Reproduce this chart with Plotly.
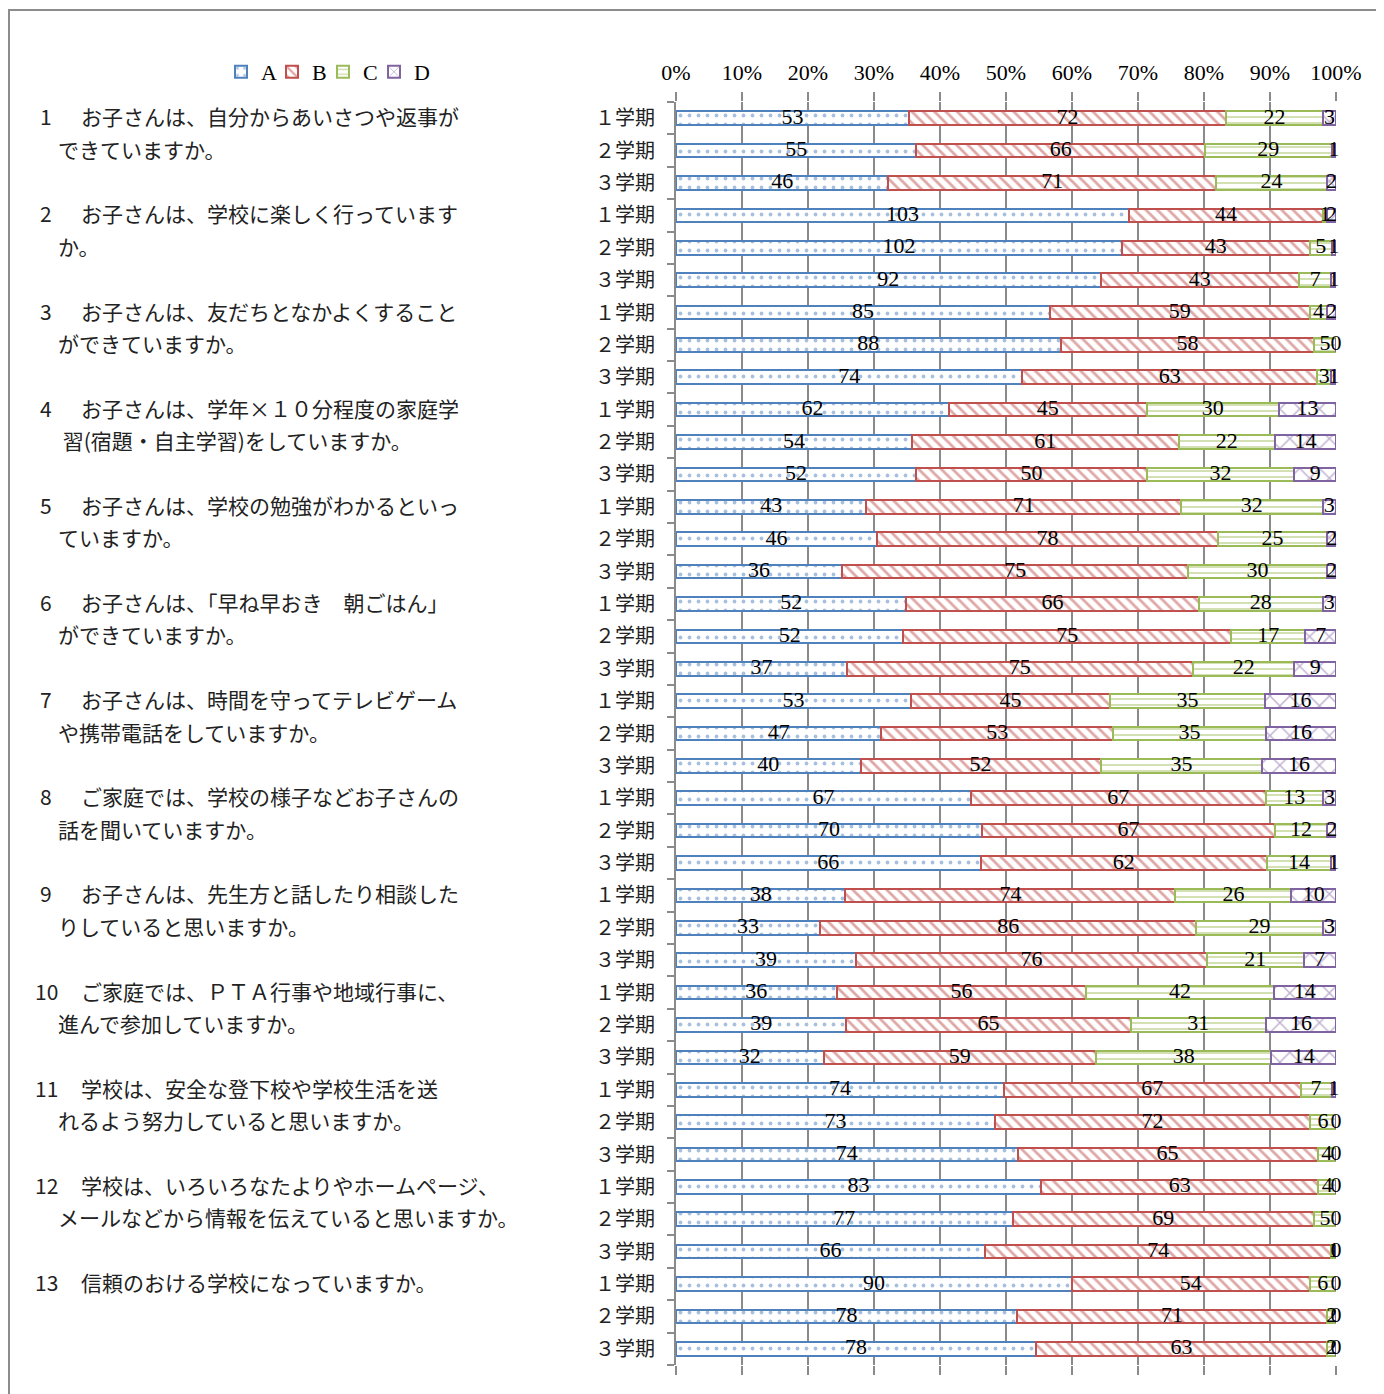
import plotly.graph_objects as go

terms = ["１学期", "２学期", "３学期"] * 13

A = [53, 55, 46, 103, 102, 92, 85, 88, 74, 62, 54, 52, 43, 46, 36, 52, 52, 37, 53, 47, 40,
     67, 70, 66, 38, 33, 39, 36, 39, 32, 74, 73, 74, 83, 77, 66, 90, 78, 78]
B = [72, 66, 71, 44, 43, 43, 59, 58, 63, 45, 61, 50, 71, 78, 75, 66, 75, 75, 45, 53, 52,
     67, 67, 62, 74, 86, 76, 56, 65, 59, 67, 72, 65, 63, 69, 74, 54, 71, 63]
C = [22, 29, 24, 1, 5, 7, 4, 5, 3, 30, 22, 32, 32, 25, 30, 28, 17, 22, 35, 35, 35,
     13, 12, 14, 26, 29, 21, 42, 31, 38, 7, 6, 4, 4, 5, 1, 6, 2, 2]
D = [3, 1, 2, 2, 1, 1, 2, 0, 1, 13, 14, 9, 3, 2, 2, 3, 7, 9, 16, 16, 16,
     3, 2, 1, 10, 3, 7, 14, 16, 14, 1, 0, 0, 0, 0, 0, 0, 0, 0]

questions = [
    ("1", "お子さんは、自分からあいさつや返事が", "できていますか。"),
    ("2", "お子さんは、学校に楽しく行っています", "か。"),
    ("3", "お子さんは、友だちとなかよくすること", "ができていますか。"),
    ("4", "お子さんは、学年×１０分程度の家庭学", " 習(宿題・自主学習)をしていますか。"),
    ("5", "お子さんは、学校の勉強がわかるといっ", "ていますか。"),
    ("6", "お子さんは、「早ね早おき　朝ごはん」", "ができていますか。"),
    ("7", "お子さんは、時間を守ってテレビゲーム", "や携帯電話をしていますか。"),
    ("8", "ご家庭では、学校の様子などお子さんの", "話を聞いていますか。"),
    ("9", "お子さんは、先生方と話したり相談した", "りしていると思いますか。"),
    ("10", "ご家庭では、ＰＴＡ行事や地域行事に、", "進んで参加していますか。"),
    ("11", "学校は、安全な登下校や学校生活を送", "れるよう努力していると思いますか。"),
    ("12", "学校は、いろいろなたよりやホームページ、", "メールなどから情報を伝えていると思いますか。"),
    ("13", "信頼のおける学校になっていますか。", ""),
]

series = [
    ("A", A, "#4f81bd", ".", 9, 0.14),
    ("B", B, "#c0504d", "\\", 8, 0.35),
    ("C", C, "#9bbb59", "-", 6, 0.3),
    ("D", D, "#8064a2", "x", 14, 0.2),
]

SERIF = "Liberation Serif"
JP = "Noto Sans CJK JP"

# page is drawn with an 8px body margin; figure coords = page coords - 8
OFF = 8
PL, PR = 676 - OFF, 1336 - OFF      # plot area x in figure px
PT, PB = 102 - OFF, 1365 - OFF      # plot area y in figure px
W, H = 1376, 1386
PW, PH = PR - PL, PB - PT


def px_x(page_x):
    return (page_x - OFF - PL) / PW


def px_y(page_y):
    return (PB - (page_y - OFF)) / PH


ys = list(range(len(terms)))
totals = [a + b + c + d for a, b, c, d in zip(A, B, C, D)]

fig = go.Figure()
cum = [0.0] * len(ys)
text_traces = []
for name, vals, col, shape, size, sol in series:
    pct = [100.0 * v / t for v, t in zip(vals, totals)]
    centers = [min(c0 + p / 2, 99.999) for c0, p in zip(cum, pct)]
    cum = [c0 + p for c0, p in zip(cum, pct)]
    fig.add_trace(go.Bar(
        name=name, y=ys, x=pct, orientation="h",
        marker=dict(color="white", line=dict(color=col, width=2),
                    pattern=dict(shape=shape, fgcolor=col, bgcolor="white",
                                 size=size, solidity=sol, fillmode="overlay")),
        hoverinfo="skip",
    ))
    text_traces.append(go.Scatter(
        x=centers, y=ys, mode="text", text=[str(v) for v in vals],
        textposition="middle center", showlegend=False, cliponaxis=False,
        textfont=dict(family=SERIF, size=22, color="black"), hoverinfo="skip",
    ))
for t in text_traces:
    fig.add_trace(t)

# empty spacer entry so the last legend label is not clipped
fig.add_trace(go.Bar(
    name=" ", y=[None], x=[None], orientation="h", showlegend=True,
    marker=dict(color="rgba(0,0,0,0)", line=dict(width=0)), hoverinfo="skip",
))

annotations = []
qfont = dict(family=JP, size=21, color="#222")
for k, (num, l1, l2) in enumerate(questions):
    r = 3 * k
    annotations.append(dict(xref="paper", yref="y", x=px_x(46), y=r, text=num, yshift=2,
                            showarrow=False, xanchor="center", yanchor="middle", font=qfont))
    annotations.append(dict(xref="paper", yref="y", x=px_x(79), y=r, text=l1, yshift=2,
                            showarrow=False, xanchor="left", yanchor="middle", font=qfont))
    if l2:
        annotations.append(dict(xref="paper", yref="y", x=px_x(56), y=r + 1, text=l2, yshift=2,
                                showarrow=False, xanchor="left", yanchor="middle", font=qfont))

fig.update_layout(
    width=W, height=H,
    margin=dict(l=PL, r=W - PR, t=PT, b=H - PB),
    paper_bgcolor="white", plot_bgcolor="white",
    barmode="stack", bargap=0.58,
    showlegend=True,
    legend=dict(orientation="h", x=px_x(221), y=px_y(72),
                xanchor="left", yanchor="middle", bgcolor="rgba(0,0,0,0)",
                font=dict(family=SERIF, size=22, color="black"),
                itemwidth=30, entrywidth=6, traceorder="normal"),
    annotations=annotations,
    shapes=[dict(type="rect", xref="paper", yref="paper",
                 x0=px_x(9), x1=px_x(1379),
                 y0=px_y(1420), y1=px_y(10),
                 line=dict(color="#8c8c8c", width=2), fillcolor="rgba(0,0,0,0)", layer="below")],
)

fig.update_xaxes(
    range=[0, 100], dtick=10, tick0=0, ticksuffix="%", side="top",
    showgrid=True, gridcolor="#8a8a8a", gridwidth=1.5,
    ticks="outside", ticklen=9, tickcolor="#8a8a8a", tickwidth=1.5,
    mirror="ticks", showline=False, zeroline=False,
    ticklabelstandoff=3,
    tickfont=dict(family=SERIF, size=22, color="black"),
)
fig.update_yaxes(
    range=[len(terms) - 0.5, -0.5], tickmode="array", tickvals=ys, ticktext=terms,
    ticks="", showgrid=False, zeroline=False,
    showline=True, linecolor="#8a8a8a", linewidth=2,
    ticklabelstandoff=15,
    tickfont=dict(family=JP, size=20, color="#222"),
    minor=dict(ticks="outside", tick0=-0.5, dtick=1, ticklen=7, tickcolor="#8a8a8a",
               tickwidth=1.5, showgrid=False),
)

fig.write_html("out.html")
